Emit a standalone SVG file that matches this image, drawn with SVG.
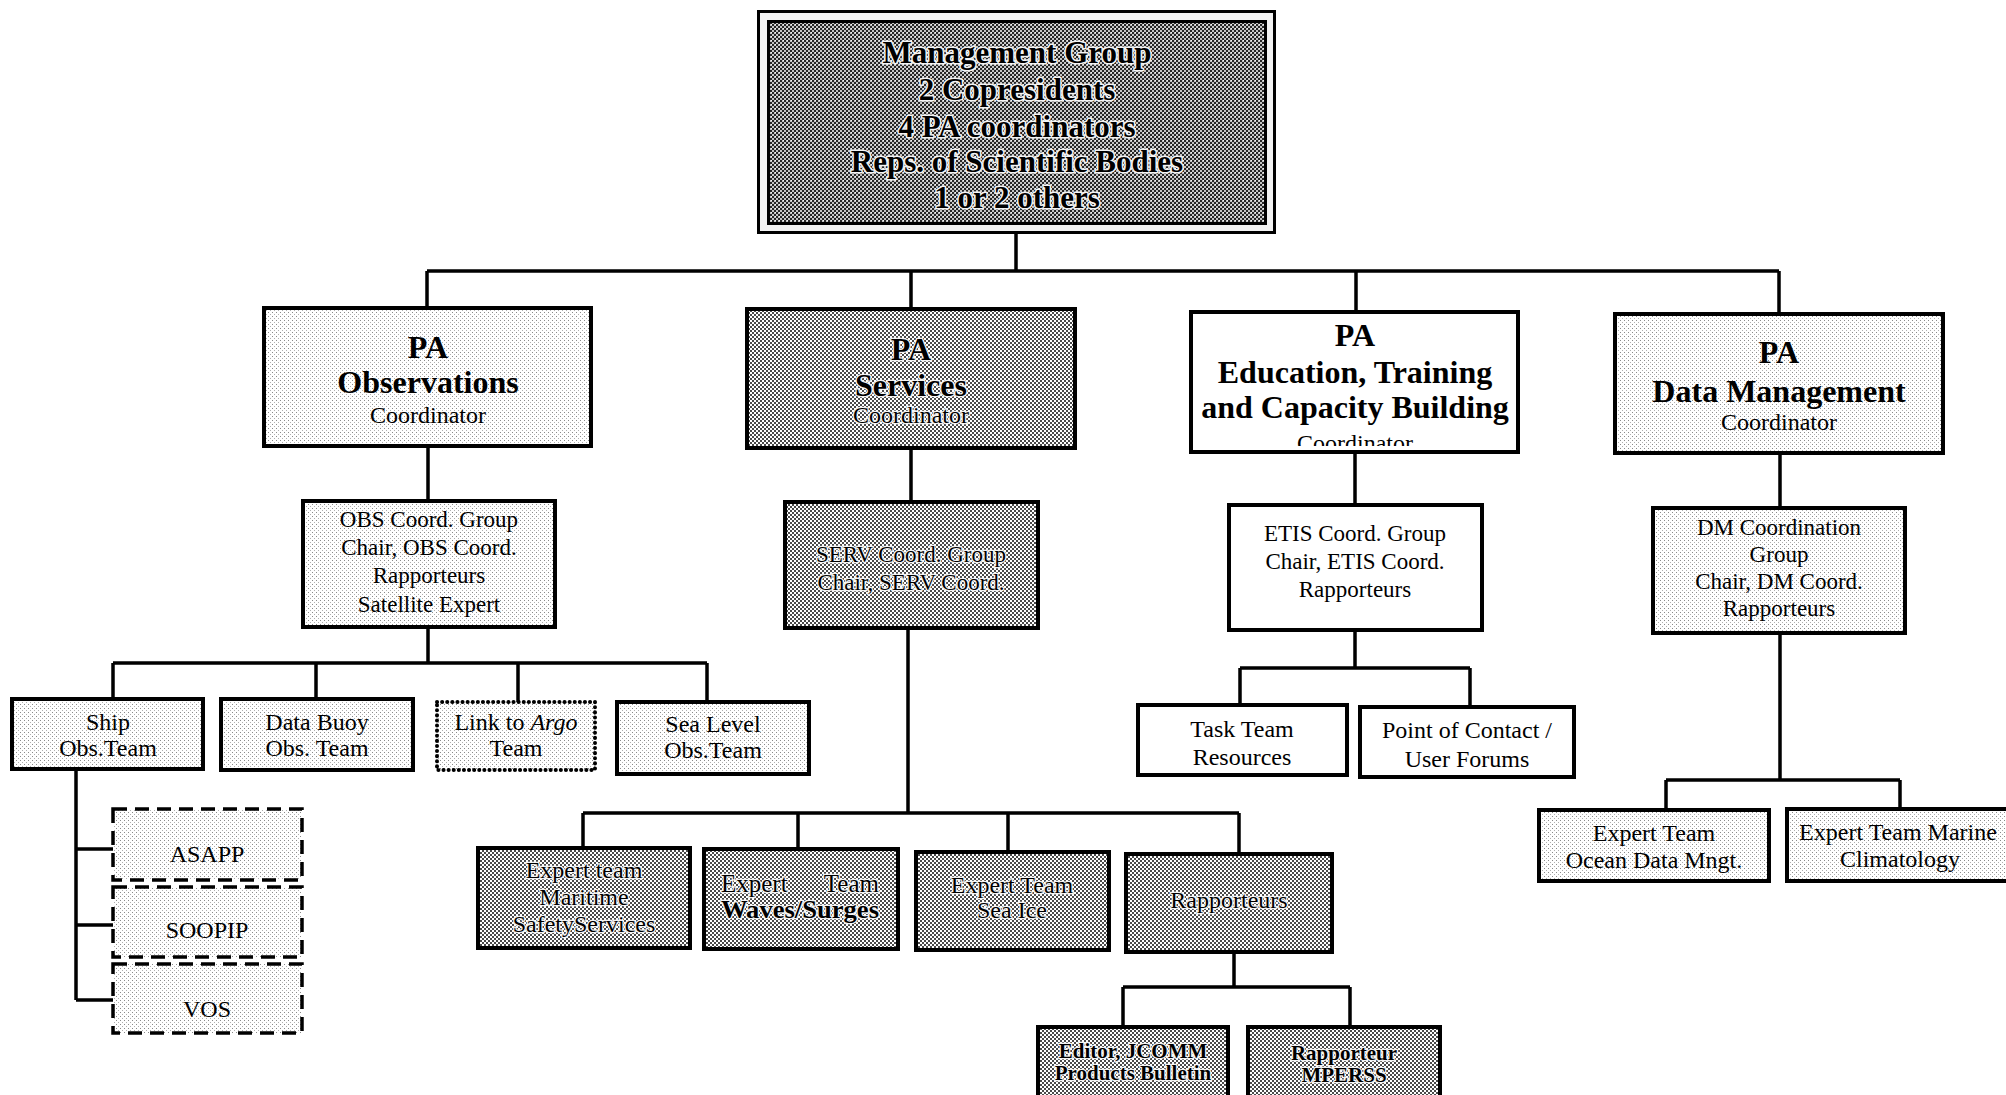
<svg xmlns="http://www.w3.org/2000/svg" width="2006" height="1095" viewBox="0 0 2006 1095">
<defs>
<pattern id="lt" width="4" height="4" patternUnits="userSpaceOnUse"><rect width="4" height="4" fill="#fff"/><rect width="1" height="1" fill="#8a8a8a"/><rect x="2" y="2" width="1" height="1" fill="#b0b0b0"/></pattern>
<pattern id="md" width="4" height="4" patternUnits="userSpaceOnUse"><rect width="4" height="4" fill="#fff"/><rect width="2" height="2" fill="#4a4a4a"/><rect x="2" y="2" width="2" height="2" fill="#4a4a4a"/></pattern>
<pattern id="dk" width="4" height="4" patternUnits="userSpaceOnUse"><rect width="4" height="4" fill="#c4c4c4"/><rect width="2" height="2" fill="#262626"/><rect x="2" y="2" width="2" height="2" fill="#262626"/><rect x="3" y="0" width="1" height="1" fill="#f4f4f4"/></pattern>
<clipPath id="eduClip"><rect x="1193" y="314" width="323" height="132"/></clipPath>
</defs>
<style>
text{font-family:"Liberation Serif","Times New Roman",serif;fill:#000;text-anchor:middle}
.b{stroke:#000;stroke-width:4}
.w{fill:#fff}
.l{fill:url(#lt)}
.m{fill:url(#md)}
.h1{font-size:32px;font-weight:bold}
.t24{font-size:24px}
.t23{font-size:23px}
.halo{stroke:#f4f4f4;stroke-width:2.5;stroke-linejoin:round;paint-order:stroke}
.conn{fill:none;stroke:#000;stroke-width:3.5}
.dash{fill:url(#lt);stroke:#000;stroke-width:3.5;stroke-dasharray:14 8}
</style>

<g id="connectors" class="conn">
<path d="M1016 234V271M427 271H1779M427 271V308M911 271V309M1356 271V312M1779 271V314"/>
<path d="M428 446V501M911 448V502M1355 452V505M1780 453V508"/>
<path d="M428 627V663M113 663H707M113 663V699M316 663V699M518 663V702M707 663V702"/>
<path d="M76 769V1000M76 849H113M76 925H113M76 1000H113"/>
<path d="M908 628V813M583 813H1239M583 813V848M798 813V849M1008 813V852M1239 813V854"/>
<path d="M1234 952V987M1123 987H1350M1123 987V1027M1350 987V1027"/>
<path d="M1355 630V668M1240 668H1470M1240 668V705M1470 668V707"/>
<path d="M1780 633V780M1666 780H1900M1666 780V810M1900 780V809"/>
</g>

<g id="management">
<rect x="758.5" y="11.5" width="516" height="221" fill="#f2f2f2" stroke="#000" stroke-width="3"/>
<rect x="768.5" y="21.5" width="497" height="202" fill="url(#dk)" stroke="#000" stroke-width="3"/>
<g class="halo" style="font-size:31px;font-weight:bold;stroke-width:3">
<text x="1017" y="63">Management Group</text>
<text x="1017" y="100">2 Copresidents</text>
<text x="1017" y="137">4 PA coordinators</text>
<text x="1017" y="172">Reps. of Scientific Bodies</text>
<text x="1017" y="208">1 or 2 others</text>
</g>
</g>

<g id="pa-observations">
<rect x="264" y="308" width="327" height="138" class="b l"/>
<text x="428" y="358" class="h1">PA</text>
<text x="428" y="393" class="h1">Observations</text>
<text x="428" y="423" class="t24">Coordinator</text>
</g>

<g id="pa-services">
<rect x="747" y="309" width="328" height="139" class="b m"/>
<g class="halo">
<text x="911" y="360" class="h1">PA</text>
<text x="911" y="396" class="h1">Services</text>
<text x="911" y="423" class="t24">Coordinator</text>
</g>
</g>

<g id="pa-education">
<rect x="1191" y="312" width="327" height="140" class="b w"/>
<text x="1355" y="346" class="h1">PA</text>
<text x="1355" y="383" class="h1">Education, Training</text>
<text x="1355" y="418" class="h1">and Capacity Building</text>
<text x="1355" y="451" class="t24" clip-path="url(#eduClip)">Coordinator</text>
</g>

<g id="pa-data-management">
<rect x="1615" y="314" width="328" height="139" class="b l"/>
<text x="1779" y="363" class="h1">PA</text>
<text x="1779" y="402" class="h1">Data Management</text>
<text x="1779" y="430" class="t24">Coordinator</text>
</g>

<g id="obs-coord-group">
<rect x="303" y="501" width="252" height="126" class="b l"/>
<text x="429" y="527" class="t23">OBS Coord. Group</text>
<text x="429" y="555" class="t23">Chair, OBS Coord.</text>
<text x="429" y="583" class="t23">Rapporteurs</text>
<text x="429" y="612" class="t23">Satellite Expert</text>
</g>

<g id="serv-coord-group">
<rect x="785" y="502" width="253" height="126" class="b m"/>
<g class="halo">
<text x="911" y="562" class="t23">SERV Coord. Group</text>
<text x="911" y="590" class="t23">Chair, SERV Coord.</text>
</g>
</g>

<g id="etis-coord-group">
<rect x="1229" y="505" width="253" height="125" class="b w"/>
<text x="1355" y="541" class="t23">ETIS Coord. Group</text>
<text x="1355" y="569" class="t23">Chair, ETIS Coord.</text>
<text x="1355" y="597" class="t23">Rapporteurs</text>
</g>

<g id="dm-coord-group">
<rect x="1653" y="508" width="252" height="125" class="b l"/>
<text x="1779" y="535" class="t23">DM Coordination</text>
<text x="1779" y="562" class="t23">Group</text>
<text x="1779" y="589" class="t23">Chair, DM Coord.</text>
<text x="1779" y="616" class="t23">Rapporteurs</text>
</g>

<g id="ship-obs-team">
<rect x="12" y="699" width="191" height="70" class="b l"/>
<text x="108" y="730" class="t24">Ship</text>
<text x="108" y="756" class="t24">Obs.Team</text>
</g>

<g id="data-buoy-obs-team">
<rect x="221" y="699" width="192" height="71" class="b l"/>
<text x="317" y="730" class="t24">Data Buoy</text>
<text x="317" y="756" class="t24">Obs. Team</text>
</g>

<g id="link-to-argo-team">
<rect x="437" y="702" width="158" height="68" fill="url(#lt)" stroke="#000" stroke-width="4" stroke-dasharray="0.1 5" stroke-linecap="round"/>
<text x="516" y="730" class="t24">Link to <tspan font-style="italic">Argo</tspan></text>
<text x="516" y="756" class="t24">Team</text>
</g>

<g id="sea-level-obs-team">
<rect x="617" y="702" width="192" height="72" class="b l"/>
<text x="713" y="732" class="t24">Sea Level</text>
<text x="713" y="758" class="t24">Obs.Team</text>
</g>

<g id="asapp">
<rect x="113" y="809" width="189" height="71" class="dash"/>
<text x="207" y="862" class="t24">ASAPP</text>
</g>
<g id="soopip">
<rect x="113" y="887" width="189" height="70" class="dash"/>
<text x="207" y="938" class="t24">SOOPIP</text>
</g>
<g id="vos">
<rect x="113" y="964" width="189" height="69" class="dash"/>
<text x="207" y="1017" class="t24">VOS</text>
</g>

<g id="et-maritime-safety">
<rect x="478" y="848" width="212" height="100" class="b m"/>
<g class="halo">
<text x="584" y="878" class="t24">Expert team</text>
<text x="584" y="905" class="t24">Maritime</text>
<text x="584" y="932" class="t24">SafetyServices</text>
</g>
</g>

<g id="et-waves-surges">
<rect x="704" y="849" width="194" height="100" class="b m"/>
<g class="halo">
<text y="892" class="t24" style="font-size:25px"><tspan x="721" text-anchor="start">Expert</tspan><tspan x="879" text-anchor="end">Team</tspan></text>
<text x="800" y="918" class="t24" style="font-size:25px;font-weight:bold" textLength="158" lengthAdjust="spacingAndGlyphs">Waves/Surges</text>
</g>
</g>

<g id="et-sea-ice">
<rect x="916" y="852" width="193" height="98" class="b m"/>
<g class="halo">
<text x="1012" y="893" class="t24">Expert Team</text>
<text x="1012" y="918" class="t24">Sea Ice</text>
</g>
</g>

<g id="rapporteurs">
<rect x="1126" y="854" width="206" height="98" class="b m"/>
<text x="1229" y="908" class="t24 halo">Rapporteurs</text>
</g>

<g id="editor-jcomm">
<rect x="1038" y="1027" width="190" height="80" class="b m"/>
<g class="halo" style="font-size:21px;font-weight:bold">
<text x="1133" y="1058">Editor, JCOMM</text>
<text x="1133" y="1080">Products Bulletin</text>
</g>
</g>

<g id="rapporteur-mperss">
<rect x="1248" y="1027" width="192" height="80" class="b m"/>
<g class="halo" style="font-size:21px;font-weight:bold">
<text x="1344" y="1060">Rapporteur</text>
<text x="1344" y="1082">MPERSS</text>
</g>
</g>

<g id="task-team-resources">
<rect x="1138" y="705" width="209" height="70" class="b w"/>
<text x="1242" y="737" class="t24">Task Team</text>
<text x="1242" y="765" class="t24">Resources</text>
</g>

<g id="point-of-contact">
<rect x="1360" y="707" width="214" height="70" class="b w"/>
<text x="1467" y="738" class="t24">Point of Contact /</text>
<text x="1467" y="767" class="t24">User Forums</text>
</g>

<g id="et-ocean-data">
<rect x="1539" y="810" width="230" height="71" class="b l"/>
<text x="1654" y="841" class="t24">Expert Team</text>
<text x="1654" y="868" class="t24">Ocean Data Mngt.</text>
</g>

<g id="et-marine-climatology">
<rect x="1787" y="809" width="230" height="72" class="b l"/>
<text x="1898" y="840" class="t24">Expert Team Marine</text>
<text x="1900" y="867" class="t24">Climatology</text>
</g>
</svg>
